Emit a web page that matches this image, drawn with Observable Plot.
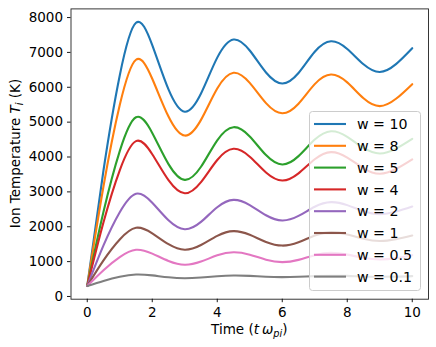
<!DOCTYPE html>
<html>
<head>
<meta charset="utf-8">
<script src="https://cdn.jsdelivr.net/npm/d3@7"></script>
<script src="https://cdn.jsdelivr.net/npm/@observablehq/plot@0.6"></script>
<style>
  html, body { margin: 0; padding: 0; background: #fff; }
  #chart { width: 436px; height: 347px; }
</style>
</head>
<body>
<div id="chart"></div>
<script>
// Time samples (t ω_pi)
const times = [0, 0.5, 1, 1.5, 2, 2.5, 3, 3.5, 4, 4.5, 5, 5.5, 6, 6.5, 7, 7.5, 8, 8.5, 9, 9.5, 10];

// Series labels
const seriesLabels = ["w = 10", "w = 8", "w = 5", "w = 4", "w = 2", "w = 1", "w = 0.5", "w = 0.1"];

// Ion temperature values (K)
const T_w10 = [300, 3620, 6340, 7850, 7210, 5940, 5300, 5820, 6850, 7370, 7055, 6425, 6110, 6410, 7020, 7320, 7100, 6660, 6440, 6665, 7120];
const T_w8  = [300, 3160, 5490, 6790, 6245, 5160, 4615, 5065, 5965, 6415, 6125, 5545, 5255, 5530, 6090, 6365, 6140, 5685, 5460, 5670, 6090];
const T_w5  = [300, 2430, 4170, 5140, 4690, 3795, 3345, 3720, 4480, 4855, 4590, 4055, 3785, 4025, 4500, 4740, 4580, 4260, 4100, 4240, 4520];
const T_w4  = [300, 2130, 3620, 4455, 4080, 3335, 2960, 3280, 3915, 4235, 4010, 3555, 3325, 3530, 3935, 4140, 3985, 3675, 3520, 3655, 3930];
const T_w2  = [300, 1465, 2415, 2945, 2690, 2185, 1930, 2140, 2560, 2770, 2620, 2330, 2180, 2310, 2575, 2705, 2620, 2445, 2360, 2435, 2580];
const T_w1  = [300, 1035, 1635, 1970, 1810, 1500, 1340, 1475, 1740, 1875, 1770, 1565, 1460, 1555, 1750, 1845, 1780, 1655, 1590, 1645, 1750];
const T_w05 = [300,  755, 1130, 1340, 1230, 1020,  910, 1000, 1180, 1270, 1200, 1055,  985, 1050, 1185, 1250, 1200, 1110, 1060, 1100, 1185];
const T_w01 = [300,  445,  565,  630,  605,  550,  525,  545,  580,  600,  590,  565,  555,  565,  585,  595,  590,  570,  565,  570,  585];

// Tick values
const xTicks = [0, 2, 4, 6, 8, 10];
const yTicks = [0, 1000, 2000, 3000, 4000, 5000, 6000, 7000, 8000];

const colors = ["#1f77b4", "#ff7f0e", "#2ca02c", "#d62728", "#9467bd", "#8c564b", "#e377c2", "#7f7f7f"];

const allSeries = [T_w10, T_w8, T_w5, T_w4, T_w2, T_w1, T_w05, T_w01];
const data = [];
allSeries.forEach((vals, i) => {
  vals.forEach((v, j) => data.push({t: times[j], T: v, w: seriesLabels[i]}));
});

const W = 436, H = 347;
const mL = 70.5, mR = 8, mT = 8.4, mB = 48.3;
const FONT = "DejaVu Sans";
const TICK_FS = 13.5, LABEL_FS = 13.5, LEG_FS = 14.2;

const plot = Plot.plot({
  width: W,
  height: H,
  marginLeft: mL,
  marginRight: mR,
  marginTop: mT,
  marginBottom: mB,
  style: {fontFamily: FONT, fontSize: TICK_FS + "px", color: "black", background: "white"},
  x: {domain: [-0.5, 10.5], label: null},
  y: {domain: [-78, 8248], label: null},
  color: {domain: seriesLabels, range: colors},
  marks: [
    Plot.line(data, {x: "t", y: "T", stroke: "w", z: "w", strokeWidth: 2.1, curve: "natural"}),
    Plot.frame({stroke: "#222", strokeWidth: 0.9}),
    Plot.axisX({ticks: xTicks, tickSize: 3.5, tickPadding: 5, label: null, tickFormat: d => String(d), strokeWidth: 0.9}),
    Plot.axisY({ticks: yTicks, tickSize: 3.5, tickPadding: 4.5, label: null, tickFormat: d => String(d), strokeWidth: 0.9})
  ]
});

document.getElementById("chart").appendChild(plot);

const svg = d3.select(plot);
const color = plot.scale("color");

// Enforce tick label font size
svg.selectAll('g[aria-label$="tick label"]').attr("font-size", TICK_FS).style("font-size", TICK_FS + "px");
svg.selectAll('g[aria-label$="tick label"] text').style("font-size", TICK_FS + "px");

// Axis labels with math styling
const xl = svg.append("text")
  .attr("x", (mL + (W - mR)) / 2)
  .attr("y", 334)
  .attr("text-anchor", "middle")
  .attr("font-family", FONT)
  .style("font-size", LABEL_FS + "px")
  .attr("fill", "black");
xl.append("tspan").text("Time (");
xl.append("tspan").attr("font-style", "italic").text("t");
xl.append("tspan").attr("font-style", "italic").attr("dx", 3).text("ω");
xl.append("tspan").attr("font-style", "italic").style("font-size", (LABEL_FS * 0.72) + "px").attr("dy", 3).text("pi");
xl.append("tspan").attr("dy", -3).text(")");

const cy = (mT + (H - mB)) / 2;
const yl = svg.append("text")
  .attr("transform", `translate(20,${cy}) rotate(-90)`)
  .attr("text-anchor", "middle")
  .attr("font-family", FONT)
  .style("font-size", LABEL_FS + "px")
  .attr("fill", "black");
yl.append("tspan").text("Ion Temperature ");
yl.append("tspan").attr("font-style", "italic").text("T");
yl.append("tspan").attr("font-style", "italic").style("font-size", (LABEL_FS * 0.72) + "px").attr("dy", 3).text("i");
yl.append("tspan").attr("dy", -3).text(" (K)");

// Legend box (inside axes, lower right)
const lg = svg.append("g");
lg.append("rect")
  .attr("x", 309.5).attr("y", 111.5)
  .attr("width", 111).attr("height", 179)
  .attr("rx", 3)
  .attr("fill", "white").attr("fill-opacity", 0.8)
  .attr("stroke", "#cccccc").attr("stroke-width", 1);
seriesLabels.forEach((lab, i) => {
  const y = 124 + i * 21.8;
  lg.append("line")
    .attr("x1", 314).attr("x2", 346)
    .attr("y1", y).attr("y2", y)
    .attr("stroke", color.apply(lab)).attr("stroke-width", 2.1);
  lg.append("text")
    .attr("x", 357).attr("y", y)
    .attr("dy", "0.36em")
    .attr("text-anchor", "start")
    .attr("font-family", FONT)
    .style("font-size", LEG_FS + "px")
    .attr("fill", "black")
    .text(lab);
});
</script>
</body>
</html>
